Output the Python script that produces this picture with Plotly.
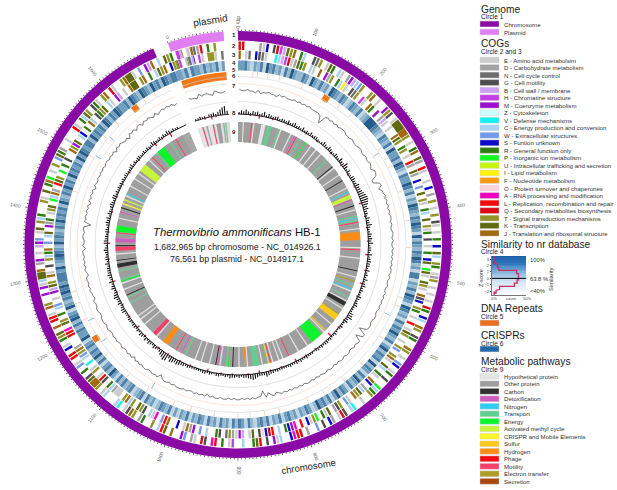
import math
import plotly.graph_objects as go

W, H = 617, 490
CX, CY, RMAX = 238, 244.5, 218
KB_DEG = 0.2
SLOT_KB = 5
CHROM_KB = 1682.965
PLAS_KB = 76.561
PLAS_START_KB = 1704

cog_names = ["E - Amino acid metabolsim", "D - Carbohydrate metabolism", "N - Cell cycle control", "G - Cell motility",
             "B - Cell wall / membrane", "H - Chromatine structure", "M - Coenzyme metabolism", "Z - Cytoskeleton",
             "V - Defense mechanisms", "C - Energy production and conversion", "W - Extracellular structures",
             "S - Funtion unknown", "R - General function only", "P - Inorganic ion metabolism",
             "U - Intracellular trafficking and secretion", "I - Lipid metabolism", "F - Nucleotide metabolism",
             "O - Protein turnover and chaperones", "A - RNA processing and modification",
             "L - Replication, recombination and repair", "Q - Secondary metabolites biosynthesis",
             "T - Signal transduction mechanisms", "K - Transcription", "J - Translation and ribosomal structure"]
cog_colors = ["#cccccc", "#a3a3a3", "#6e6e6e", "#4d4d50", "#cda0f5", "#c63fe6", "#9a0fd0", "#ccfdfd", "#14f0f0", "#a6d2f5",
              "#7299ea", "#0a0ac8", "#2f7f10", "#10f820", "#c8f510", "#fff20f", "#fb9a12", "#fcd2dc", "#f000c0", "#f40a0a",
              "#dc0a14", "#94942a", "#5f6a10", "#a06a10"]
path_names = ["Hypothetical protein", "Other protein", "Carbon", "Detoxification", "Nitrogen", "Transport", "Energy",
              "Activated methyl cycle", "CRISPR and Mobile Elements", "Sulfur", "Hydrogen", "Phage", "Motility",
              "Electron transfer", "Secretion"]
path_colors = ["#e4e4e4", "#9e9e9e", "#303030", "#d05cc0", "#2fcdf0", "#60cf90", "#0cf52c", "#c8f53a", "#fdf52a", "#fcc81a",
               "#fb8c14", "#f40a14", "#f5406a", "#b09c28", "#a8480f"]
path_keys = "hocdntmeasypqxz"
path_keys = "hocdntemasypqxz"
heat_colors = {"0": "#e4edf3", "1": "#bdd5e5", "2": "#96bad2", "3": "#709fbf", "4": "#4c80a8", "5": "#265a88"}
cog_map = dict(zip("EDNGBHMZVCWSRPUIFOALQTKJ", cog_colors))
path_map = dict(zip(path_keys, path_colors))

ring2_sections = [
    "LQ....DES.GQHBKTJ.RC", "..GNT.EKR.CE.DMBCWT.", ".TJ.E..MTG.EKKKJJT.E", ".RJ.KD.LE..E.S.D.T.E",
    ".T.GE.E.R.S.KC.TR.ED", "T.E.E.E.QR.SC.JT.GR.", ".JT.E.WS.ER.G..PCRT.", ".E..VC.GLE.DS.G.W..D",
    ".QLAS..CEM.G.LKR..C.", ".HE.R.LA.GQ.ED.WM..J", ".KLC.T..RD.TJGE.VC..", ".CE.TJJKG.R.WE.LQ.SE",
    ".RTK.J.QLE.JT..M.MEC", "KKJ.DM.E.BMW.EK.TCR.", "..TE.K.RJP.E.T.WKRD.", ".E...LE.RCKT.GRE.TJ.",
    "QE..TJKKE.W.MBJ.C.KT", "R.MT.BJ"]
ring3_sections = [
    "J.EN.SGNE..VCBHQEDKR", "T.CE.J.MDT.RCIE.GNT.", "HE.JR.M.DBE.E..JKT.R", "T.E.LD.KD.S.W.K.TE.R",
    "C.K.TER.G.E.R.SK.PKE", ".KTE.JGS.TR.E.L.EKT.", "E.TW.TJE.KC.RE.JS.DC", "KTJ.EW.TGD.KER.PTES.",
    "L.AMSR.C.LQSOG.KE.BM", "EDTN.GR..C.W.MDJE.S.", ".JLW.AEC.GTK.TCJT.EE", "DCR.GLE.TE.V.CWTJD..",
    ".QLA.KT.R.CW.E.MBKT.", "JE.G.TCRJ.W.CK.MDR.E", "TK.PCJD.LKT.P.R.G..J", "TMK.CS.R.JC.GRTK.CE.",
    "MB.E.JKK.TJ.R.CKTJ.S", "TKE.RCS"]
ring4_sections = [
    "33421324153423142532", "24315324231543243124", "32412355543214324153", "34254214335424132543",
    "24354315243243542314", "41324254315423142435", "32413524341524314253", "24134253142435213423",
    "13243142314243124134", "24132413241342314231", "31423421324143214324", "24135243142534243153",
    "34242543153243545344", "43523454325343243534", "34253243534253434253", "54344253434254243543",
    "34254325432534254344", "3425432"]
ring9_sections = [
    "oohoooqhooohhottooot", "hoooohodqotooeoohooh", "oohoootooochooohooco", "oohonommdoocohootntq",
    "oohoyyyyooohqooohooo", "oocoohoxotonhootohcc", "ohooxsssoohoooshoeee", "eeeoohoooohooooqooho",
    "hoohqmoohotttoohyooh", "oocoetoohdcoohooohoo", "hooootodooqooooyyyoo", "ohqqooooohoohohooooo",
    "otootcoohoohetoootoc", "cocoohoqqcoddooqeeeo", "oohoodocoaomohnoooho", "oohoohommmmoohoqoote",
    "eeeoootooqooo"]
ring7_sections = [
    "23323342433233423233", "32323232333349323232", "32223332333223323323", "42237732533232323232",
    "23233223233232323232", "23233233232323233223", "32238227223233223223", "23223223232322323232",
    "32323423527332323232", "23232232232423232332", "32223232235232332232", "32423233233232332232",
    "22332233243323232243", "23232322423322322723", "23232423232423323232", "32232324232343523242",
    "24232342432323243"]
ring8_black = [
    "24353243423524323423", "32423423242324233212", "43243224325336424224", "43354456788764533243",
    "35322434352332423433", "24232423423224323422", "24563422321232232332", "32321222322323223222",
    "22323345333456543323", "23342322331232332222", "22323345456378653234", "23424234232332332224",
    "43243354324324234333", "24233234324433233234", "34243234324423232323", "23322342323322323224",
    "3223232432322"]
ring8_red = [
    "00000100020000010000", "00100000000100000100", "00000100000010000100", "00010000000200000100",
    "00100000100000200000", "01000002000001000000", "00000100010000300000", "00010000100002000000",
    "10000100002000010000", "00100001000002000000", "01000010000010000100", "00000100002000001000",
    "00100000100002000000", "00010000002000010000", "00001000000100000100", "00010000001000000100",
    "2000100030000"]
repeat_deg = [5, 6.5, 10, 14, 22, 36, 41, 47, 56, 60, 63, 72, 82, 91, 108, 111, 123, 134, 142, 150, 156, 166, 171,
              176, 180, 188, 196, 202, 212, 220, 230, 244, 250, 254, 288, 301, 309, 315, 327, 331]
repeat_big = [30.5, 31.5, 236, 237, 322.5, 323.5]
crispr_deg = [57, 115, 211, 234.5, 243, 302, 310]

plas2 = ".HB.E.NDQ.R.T.."
plas3 = "TH.ENB.HE.TTE.N"
plas4 = "324143324232413"
plas7 = "344524334523443"
plas8 = "223221334246894"
plas9 = "hhqhohhqhoohoth"
plas8_red = "000010020100000"

major_kb = list(range(100, 1700, 100))

hist_z = [-2.35, -2.1, -1.5, -1, -0.5, 0, 0.5, 1, 1.5, 2, 2.6, 3.4]
hist_c = [3, 6, 11, 33, 37, 39, 39, 36, 10, 8, 3, 3]


def px(x):
    return x / W


def py(y):
    return 1 - y / H


traces = []


def bars(theta, width, inner, outer, colors):
    traces.append(go.Barpolar(theta=theta, width=width, base=inner, r=[o - i for o, i in zip(outer, inner)],
                              marker=dict(color=colors, line=dict(width=0)), hoverinfo="skip", showlegend=False,
                              subplot="polar"))


def cat_ring(s, cmap, r0, r1, start_kb=0, thin=.5):
    """Adjacent slots of one class merge; a lone slot is drawn as a thin stripe."""
    th, wd, col = [], [], []
    i = 0
    while i < len(s):
        j = i
        while j + 1 < len(s) and s[j + 1] == s[i]:
            j += 1
        if s[i] in cmap:
            n = j - i + 1
            th.append((start_kb + (i + n / 2) * SLOT_KB) * KB_DEG)
            wd.append(n * SLOT_KB * KB_DEG * (1 if n > 1 else thin))
            col.append(cmap[s[i]])
        i = j + 1
    bars(th, wd, [r0] * len(th), [r1] * len(th), col)


# ring 1
bars([CHROM_KB / 2 * KB_DEG], [CHROM_KB * KB_DEG], [204], [213.5], ["#8a0aa5"])
bars([(PLAS_START_KB + PLAS_KB / 2) * KB_DEG], [PLAS_KB * KB_DEG], [204], [213.5], ["#e07ef2"])
tk = [k for k in range(0, int(CHROM_KB), 5)]
bars([k * KB_DEG for k in tk], [.22] * len(tk), [213.5] * len(tk), [216 if k % 100 == 0 else 215 for k in tk], ["#555555"] * len(tk))
tk = list(range(PLAS_START_KB, PLAS_START_KB + 77, 5))
bars([k * KB_DEG for k in tk], [.22] * len(tk), [213.5] * len(tk), [215] * len(tk), ["#555555"] * len(tk))

ring2 = "".join(ring2_sections)
ring3 = "".join(ring3_sections)
ring4 = "".join(ring4_sections)
ring9 = "".join(ring9_sections)
cat_ring(ring2, cog_map, 194.5, 203, thin=.7)
cat_ring(ring3, cog_map, 185.5, 194, thin=.7)
cat_ring(ring4, heat_colors, 174, 184, thin=1)
bars([CHROM_KB / 2 * KB_DEG], [CHROM_KB * KB_DEG], [102.5], [122.5], ["#a6a8a6"])
cat_ring(ring9, path_map, 102.5, 122.5, thin=.55)
cat_ring(plas2, cog_map, 194.5, 203, PLAS_START_KB, thin=.7)
cat_ring(plas3, cog_map, 185.5, 194, PLAS_START_KB, thin=.7)
cat_ring(plas4, heat_colors, 174, 184, PLAS_START_KB, thin=1)
bars([(PLAS_START_KB + PLAS_KB / 2) * KB_DEG], [PLAS_KB * KB_DEG], [102.5], [122.5], ["#d4d4d4"])
cat_ring(plas9, path_map, 102.5, 122.5, PLAS_START_KB, thin=.55)

# repeats and crisprs
bars(repeat_deg, [.25] * len(repeat_deg), [168.5] * len(repeat_deg), [173.5] * len(repeat_deg), ["#f8c8a8"] * len(repeat_deg))
bars(repeat_big, [1.2] * len(repeat_big), [167] * len(repeat_big), [173.5] * len(repeat_big), ["#f07818"] * len(repeat_big))
bars(crispr_deg, [.25] * len(crispr_deg), [161.5] * len(crispr_deg), [168] * len(crispr_deg), ["#6aa5d8"] * len(crispr_deg))
bars([(PLAS_START_KB + PLAS_KB / 2) * KB_DEG], [PLAS_KB * KB_DEG], [165], [173], ["#f07818"])

# guide circles
for rr, col in [(168, "#d9d9d9"), (161, "#f8d8c8"), (143, "#d2d2d2")]:
    for st, ln in [(0, CHROM_KB), (PLAS_START_KB, PLAS_KB)]:
        traces.append(go.Scatterpolar(theta=[(st + ln * i / 60) * KB_DEG for i in range(61)], r=[rr] * 61, mode="lines",
                                      line=dict(color=col, width=.7), hoverinfo="skip", showlegend=False, subplot="polar"))

# ring 7
g = "".join(ring7_sections)
traces.append(go.Scatterpolar(theta=[(i + .5) * SLOT_KB * KB_DEG for i in range(len(g))], r=[158 - int(c) * 1.35 for c in g],
                              mode="lines", line=dict(color="#222222", width=.6), hoverinfo="skip", showlegend=False, subplot="polar"))
traces.append(go.Scatterpolar(theta=[(PLAS_START_KB + (i + .5) * SLOT_KB) * KB_DEG for i in range(len(plas7))],
                              r=[158 - int(c) * 1.35 for c in plas7], mode="lines", line=dict(color="#222222", width=.6),
                              hoverinfo="skip", showlegend=False, subplot="polar"))

# ring 8
for s, red, st, ln in [("".join(ring8_black), "".join(ring8_red), 0, CHROM_KB), (plas8, plas8_red, PLAS_START_KB, PLAS_KB)]:
    th = [(st + (i + .5) * SLOT_KB) * KB_DEG for i in range(len(s))]
    traces.append(go.Scatterpolar(theta=[(st + ln * i / 60) * KB_DEG for i in range(61)], r=[130.5] * 61, mode="lines",
                                  line=dict(color="#000000", width=.9), hoverinfo="skip", showlegend=False, subplot="polar"))
    bars(th, [.45] * len(s), [130.5] * len(s), [130.5 + int(c) * .95 for c in s], ["#000000"] * len(s))
    ri = [i for i, c in enumerate(red) if c != "0"]
    bars([th[i] for i in ri], [.6] * len(ri), [130.5 - int(red[i]) * 1.4 for i in ri], [130.5] * len(ri), ["#d0203c"] * len(ri))

fig = go.Figure(traces)

# inset: similarity panel
grad_y = [i * .25 - 2.5 for i in range(25)]
fig.add_trace(go.Heatmap(z=[[v, v] for v in grad_y], x=[0, 50], y=grad_y, xaxis="x", yaxis="y", showscale=False, hoverinfo="skip",
                         colorscale=[[0, "#ffffff"], [.35, "#cfe2f2"], [.6, "#7fb0da"], [.8, "#2f75bd"], [1, "#1c5fa8"]]))
step_x, step_y = [], []
for i, c in enumerate(hist_c):
    step_x += [c, c]
    step_y += [hist_z[i] - .25, hist_z[i] + .25]
fig.add_trace(go.Scatter(x=step_x, y=step_y, mode="lines", line=dict(color="#c83060", width=1.3), hoverinfo="skip", showlegend=False))
fig.add_trace(go.Scatter(x=[0, 50], y=[0, 0], mode="lines", line=dict(color="#000000", width=1), hoverinfo="skip", showlegend=False))

ann = []
shapes = []


def text(x, y, t, size, color="#222222", anchor="left", angle=0):
    ann.append(dict(x=px(x), y=py(y), xref="paper", yref="paper", text=t, showarrow=False, xanchor=anchor, yanchor="middle",
                    textangle=angle, font=dict(size=size, color=color, family="Liberation Sans"), borderpad=0))


def swatch(y, color):
    shapes.append(dict(type="rect", xref="paper", yref="paper", x0=px(480), x1=px(499), y0=py(y - 2.9), y1=py(y + 2.9),
                       fillcolor=color, line=dict(color="#d0d0d0", width=.4)))


def head(y, t, sub):
    text(479.5, y, t, 10.2, "#1a1a1a")
    text(479.5, y + 8, sub, 6.6, "#222222")


head(9, "Genome", "Circle 1")
for y, c, n in [(24, "#8a0aa5", "Chromosome"), (32, "#e07ef2", "Plasmid")]:
    swatch(y, c)
    text(503, y, n, 6.1, "#333333")
head(43.5, "COGs", "Circle 2 and 3")
for i, (n, c) in enumerate(zip(cog_names, cog_colors)):
    y = 60 + i * 7.53
    swatch(y, c)
    text(503, y, n, 6.1, "#333333")
head(244, "Similarity to nr database", "Circle 4")
head(308, "DNA Repeats", "Circle 5")
swatch(323, "#e8701e")
head(335, "CRISPRs", "Circle 6")
swatch(349, "#1f68ac")
head(361, "Metabolic pathways", "Circle 9")
for i, (n, c) in enumerate(zip(path_names, path_colors)):
    y = 376.3 + i * 7.5
    swatch(y, c)
    text(503, y, n, 6.1, "#333333")

for y, t in [(260, "100%"), (278.5, "63.8 %"), (290.5, "<40%")]:
    text(529, y, t, 5.8, "#333333")
text(551, 279, "Similarity", 5.8, "#333333", "center", -90)
text(481, 278, "Z-score", 5.2, "#333333", "center", -90)
for x, t in [(494, "0%"), (511, "count"), (527, "50%")]:
    text(x, 298, t, 4, "#444444", "center")

# centre text
text(237, 231.5, "<i>Thermovibrio ammonificans</i> HB-1", 11.3, "#111111", "center")
text(237, 247.5, "1,682,965 bp chromosome - NC_014926.1", 8.8, "#222222", "center")
text(237, 258.5, "76,561 bp plasmid - NC_014917.1", 8.8, "#222222", "center")
text(210, 20, "plasmid", 10, "#222222", "center", -9)
text(308, 466, "chromosome", 9.5, "#222222", "center", -9)

# ring numbers
for y, t in [(35, "1"), (46, "2"), (55, "3"), (63, "4"), (70, "5"), (76, "6"), (86, "7"), (113, "8"), (132, "9")]:
    text(234, y, "<b>%s</b>" % t, 6, "#222222", "center")

# kb labels
for k in major_kb:
    d = k * KB_DEG
    a = math.radians(d)
    x = CX + 226 * math.sin(a)
    y = CY - 226 * math.cos(a)
    ang = d - 90 if d <= 180 else d + 90 - 360
    text(x, y, str(k), 4.8, "#666666", "center", ang)
text(238.5, 22, "0 Kbp", 4.8, "#666666", "center", -90)
text(167, 37, "0", 4.8, "#666666", "center", -20)

fig.update_layout(
    width=W, height=H, margin=dict(l=0, r=0, t=0, b=0), paper_bgcolor="white", plot_bgcolor="white", showlegend=False,
    polar=dict(domain=dict(x=[px(CX - RMAX), px(CX + RMAX)], y=[py(CY + RMAX), py(CY - RMAX)]), bgcolor="rgba(0,0,0,0)",
               barmode="overlay",
               radialaxis=dict(range=[0, RMAX], visible=False),
               angularaxis=dict(visible=False, direction="clockwise", rotation=90)),
    xaxis=dict(domain=[px(492), px(526)], range=[0, 50], anchor="y", showgrid=False, zeroline=False, ticks="", showticklabels=False,
               showline=True, linecolor="#777777", linewidth=.5),
    yaxis=dict(domain=[py(295), py(256)], range=[-2.6, 3.5], anchor="x", showgrid=False, zeroline=False, tickvals=[-2, -1, 0, 1, 2, 3],
               ticks="outside", ticklen=1.5, tickwidth=.5, tickfont=dict(size=4, color="#444444", family="Liberation Sans"),
               showline=True, linecolor="#777777", linewidth=.5),
    annotations=ann, shapes=shapes, font=dict(family="Liberation Sans"))

fig.write_html("out.html", config={"displayModeBar": False}, post_script="document.body.style.margin='0';")
